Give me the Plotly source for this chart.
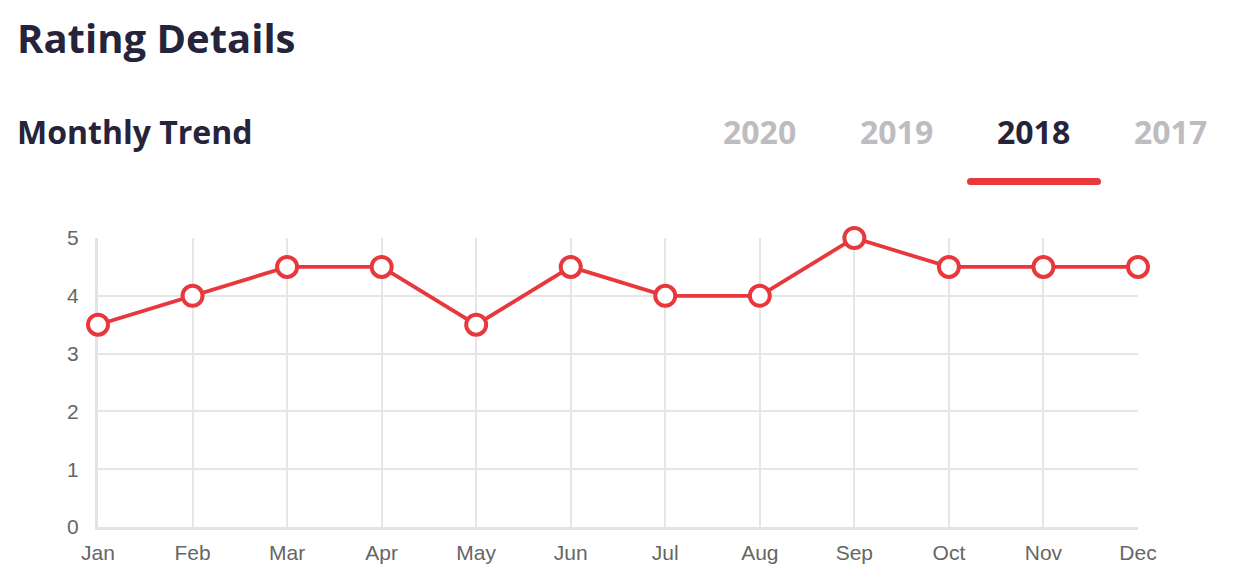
import plotly.graph_objects as go

months = ["Jan", "Feb", "Mar", "Apr", "May", "Jun", "Jul", "Aug", "Sep", "Oct", "Nov", "Dec"]
ratings = [3.5, 4, 4.5, 4.5, 3.5, 4.5, 4, 4, 5, 4.5, 4.5, 4.5]
y_ticks = [0, 1, 2, 3, 4, 5]
years = ["2020", "2019", "2018", "2017"]
active_year = "2018"

RED = "#e8383d"
DARK = "#25243b"
GRID = "#e6e6e6"

# page body adds an 8px offset; work in reference pixel coords and shift
OFF = 8
W, H = 1234 - OFF, 586 - OFF
L, R, T, B = 98 - OFF, 1234 - 1138, 238 - OFF, 586 - 527

fig = go.Figure()
fig.add_trace(go.Scatter(
    x=months, y=ratings, mode="lines+markers",
    line=dict(color=RED, width=3.8),
    marker=dict(size=20, color="white", line=dict(color=RED, width=4)),
    cliponaxis=False, hoverinfo="x+y", showlegend=False,
))

fig.update_layout(
    width=W, height=H,
    margin=dict(l=L, r=R, t=T, b=B),
    paper_bgcolor="white", plot_bgcolor="white",
    font=dict(family="Liberation Sans, Arial, sans-serif", color="#666666", size=21),
    xaxis=dict(
        type="category", range=[0, 11], showgrid=True, gridcolor=GRID, gridwidth=2,
        showline=True, linecolor="#e3e3e3", linewidth=3, ticks="", ticklabelstandoff=5,
        tickfont=dict(size=21, color="#666666"), zeroline=False, layer="below traces",
    ),
    yaxis=dict(
        range=[0, 5], tickvals=y_ticks, showgrid=True, gridcolor=GRID, gridwidth=2,
        showline=True, linecolor="#e3e3e3", linewidth=3, ticks="", ticklabelstandoff=12,
        tickfont=dict(size=21, color="#666666"), zeroline=False, layer="below traces",
    ),
)

plot_w = W - L - R
plot_h = H - T - B
def pxx(px):
    return (px - OFF - L) / plot_w
def pxy(py):
    return (H - B - (py - OFF)) / plot_h

fig.add_annotation(text="<b>Rating Details</b>", xref="paper", yref="paper",
                   x=pxx(15), y=pxy(37), xanchor="left", yanchor="middle",
                   font=dict(family="Open Sans, sans-serif", size=40, color=DARK),
                   showarrow=False)
fig.add_annotation(text="<b>Monthly Trend</b>", xref="paper", yref="paper",
                   x=pxx(15), y=pxy(132), xanchor="left", yanchor="middle",
                   font=dict(family="Open Sans, sans-serif", size=32, color=DARK),
                   showarrow=False)

year_centers = [759, 896, 1033, 1170]
for yr, cx in zip(years, year_centers):
    fig.add_annotation(text=f"<b>{yr}</b>", xref="paper", yref="paper",
                       x=pxx(cx), y=pxy(132),
                       xanchor="center", yanchor="middle", showarrow=False,
                       font=dict(family="Open Sans, sans-serif", size=32,
                                 color=DARK if yr == active_year else "#bdbdbf"))

x0, x1, y0, y1 = 967, 1101, 178, 185
r = (y1 - y0) / 2
fig.add_shape(type="rect", xref="paper", yref="paper",
              x0=pxx(x0 + r), x1=pxx(x1 - r), y0=pxy(y1), y1=pxy(y0),
              fillcolor=RED, line=dict(width=0))
for cx in (x0 + r, x1 - r):
    fig.add_shape(type="circle", xref="paper", yref="paper",
                  x0=pxx(cx - r), x1=pxx(cx + r), y0=pxy(y1), y1=pxy(y0),
                  fillcolor=RED, line=dict(width=0))

fig.write_html("out.html")
